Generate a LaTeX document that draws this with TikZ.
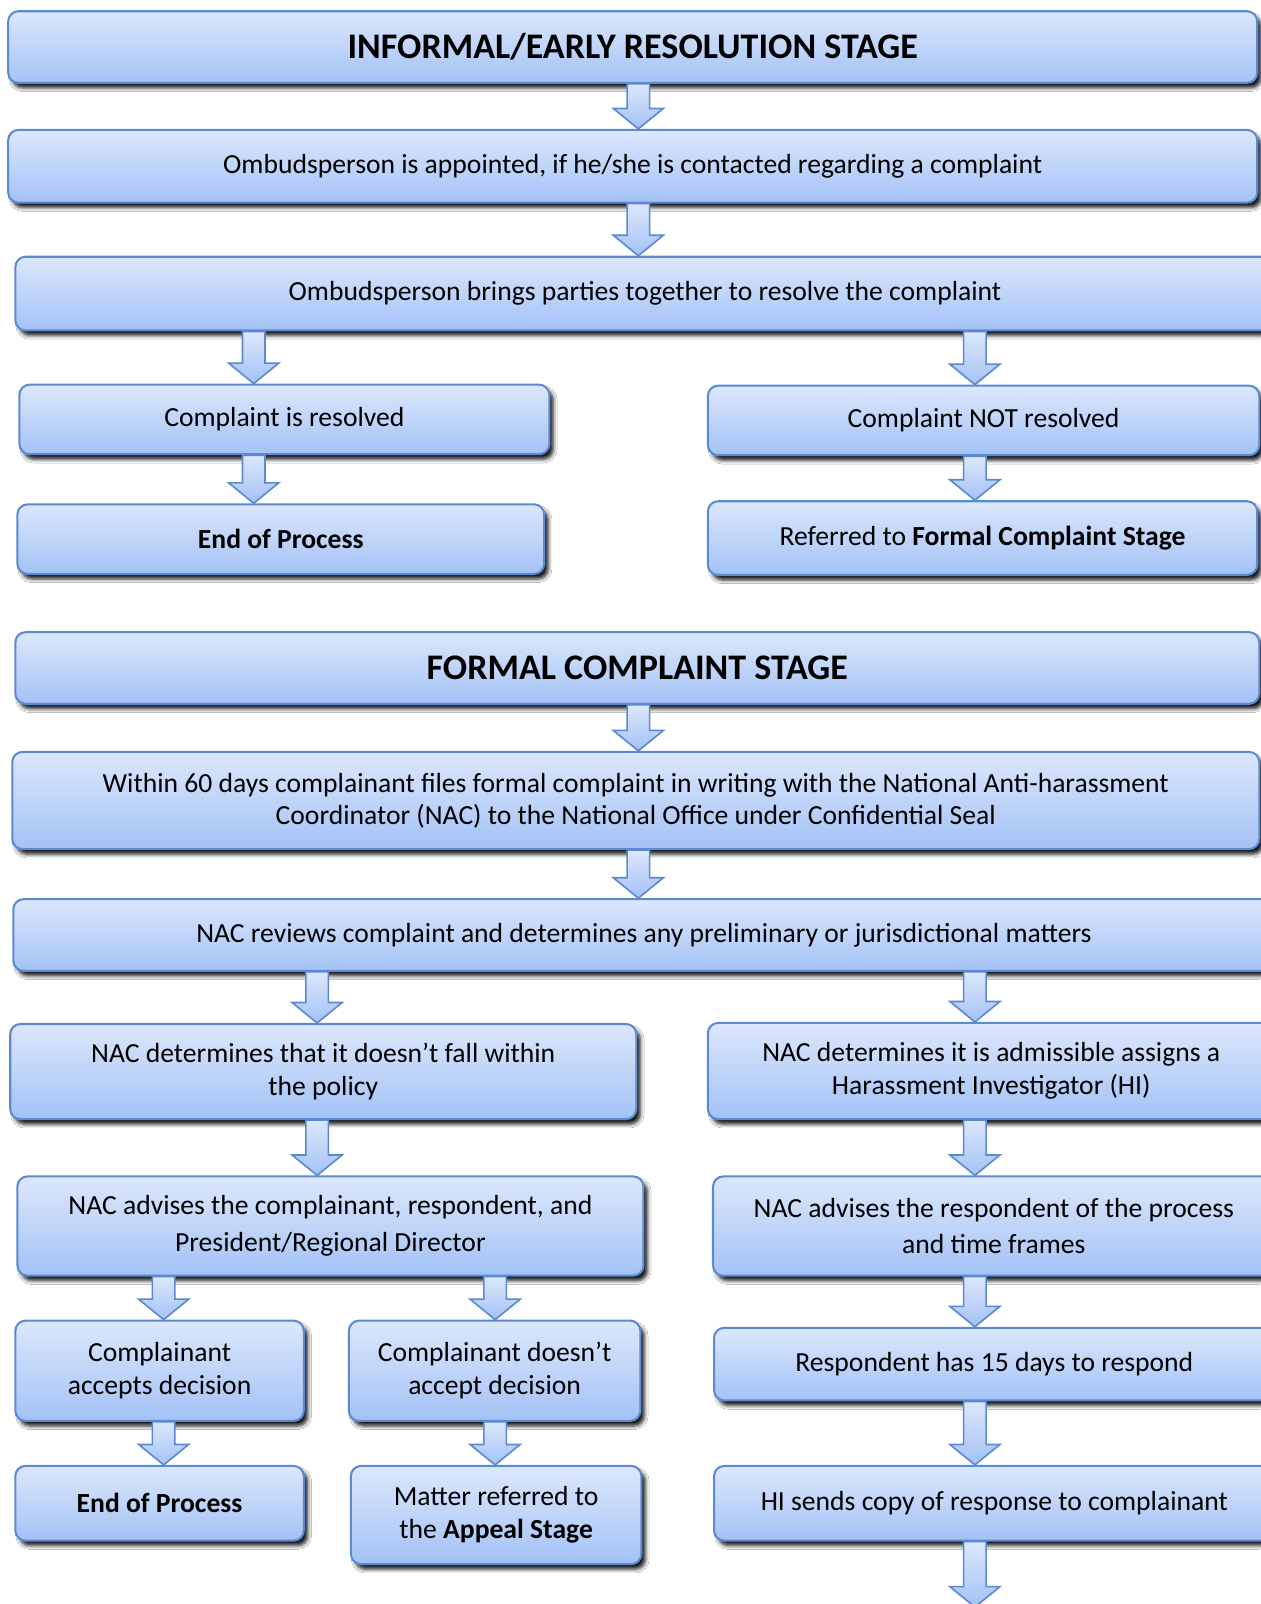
\documentclass[tikz,border=0pt]{standalone}
\usepackage{fontspec}
\setmainfont{Carlito}
\usetikzlibrary{calc,shadows.blur}
\definecolor{boxtop}{HTML}{DCE7FC}
\definecolor{boxbot}{HTML}{A3C2F6}
\definecolor{boxline}{HTML}{5B8AD0}
\tikzset{
  box/.style={draw=boxline, line width=1pt, rounded corners=5pt,
    top color=boxtop, bottom color=boxbot, inner sep=0pt, align=center,
    anchor=north west, font=\fontsize{13.5}{16}\selectfont,
    blur shadow={shadow xshift=2pt, shadow yshift=-2.5pt, shadow blur radius=1.8pt, shadow opacity=90}},
  barrowstyle/.style={draw=boxline, line width=0.8pt, line join=miter,
    top color=boxtop, bottom color=boxbot},
  headfont/.style={font=\fontsize{17.6}{20}\selectfont\bfseries},
  boldfont/.style={font=\fontsize{13.5}{16}\selectfont\bfseries},
}
% name, left, top, right, bottom, options, text
\newcommand\bx[7]{%
  \node[box, #6, minimum width={(#4-#2)*0.5pt}, minimum height={(#5-#3)*0.5pt}] (#1) at (#2,#3) {#7};}
% from, to, x
\newcommand\barrow[3]{%
  \path let \p1=(#1.south), \p2=(#2.north), \p3=(#3,0) in
    [barrowstyle] (\x3-5.5pt,\y1) -- (\x3+5.5pt,\y1) -- (\x3+5.5pt,\y2+10pt) -- (\x3+12.25pt,\y2+10pt)
    -- (\x3,\y2) -- (\x3-12.25pt,\y2+10pt) -- (\x3-5.5pt,\y2+10pt) -- cycle;}
\begin{document}
\begin{tikzpicture}[x=0.5pt,y=-0.5pt]
\useasboundingbox (0,0) rectangle (1232,1568);
\fill[white] (0,0) rectangle (1232,1568);
% informal stage
\bx{a}{7}{10}{1228}{80}{headfont}{INFORMAL/EARLY RESOLUTION STAGE}
\bx{b}{7}{126}{1228}{197}{}{Ombudsperson is appointed, if he/she is contacted regarding a complaint}
\bx{c}{14}{250}{1245}{322}{}{Ombudsperson brings parties together to resolve the complaint}
\bx{d}{18}{375}{536}{443}{}{Complaint is resolved}
\bx{e}{16}{492}{531}{560}{boldfont}{End of Process}
\bx{f}{691}{376}{1230}{444}{}{Complaint NOT resolved}
\bx{g}{691}{489}{1228}{561}{}{Referred to \textbf{Formal Complaint Stage}}
% formal stage
\bx{h}{14}{617}{1230}{687}{headfont}{FORMAL COMPLAINT STAGE}
\bx{i}{11}{734}{1230}{829}{font=\fontsize{13.5}{15.5}\selectfont}{Within 60 days complainant files formal complaint in writing with the National Anti-harassment\\Coordinator (NAC) to the National Office under Confidential Seal}
\bx{j}{12}{878}{1245}{948}{}{NAC reviews complaint and determines any preliminary or jurisdictional matters}
\bx{k}{9}{1000}{621}{1093}{}{NAC determines that it doesn’t fall within\\the policy}
\bx{l}{691}{999}{1245}{1093}{}{NAC determines it is admissible assigns a\\Harassment Investigator (HI)}
\bx{m}{16}{1149}{628}{1246}{font=\fontsize{13.5}{18}\selectfont}{NAC advises the complainant, respondent, and\\President/Regional Director}
\bx{n}{696}{1149}{1245}{1246}{font=\fontsize{13.5}{18}\selectfont}{NAC advises the respondent of the process\\and time frames}
\bx{o}{14}{1290}{296}{1388}{}{Complainant\\accepts decision}
\bx{p}{340}{1290}{625}{1388}{}{Complainant doesn’t\\accept decision}
\bx{q}{697}{1297}{1245}{1368}{}{Respondent has 15 days to respond}
\bx{r}{14}{1432}{296}{1505}{boldfont}{End of Process}
\bx{s}{342}{1432}{626}{1528}{}{Matter referred to\\the \textbf{Appeal Stage}}
\bx{t}{697}{1432}{1245}{1505}{}{HI sends copy of response to complainant}
\coordinate (tend) at (953,1571);
% arrows
\barrow{a}{b}{624}
\barrow{b}{c}{624}
\barrow{c}{d}{248}
\barrow{c}{f}{953}
\barrow{d}{e}{248}
\barrow{f}{g}{953}
\barrow{h}{i}{624}
\barrow{i}{j}{624}
\barrow{j}{k}{310}
\barrow{j}{l}{953}
\barrow{k}{m}{310}
\barrow{l}{n}{953}
\barrow{m}{o}{160}
\barrow{m}{p}{484}
\barrow{n}{q}{953}
\barrow{o}{r}{160}
\barrow{p}{s}{484}
\barrow{q}{t}{953}
\path let \p1=(t.south), \p2=(tend), \p3=(953,0) in
    [barrowstyle] (\x3-5.5pt,\y1) -- (\x3+5.5pt,\y1) -- (\x3+5.5pt,\y2+10pt) -- (\x3+12.25pt,\y2+10pt)
    -- (\x3,\y2) -- (\x3-12.25pt,\y2+10pt) -- (\x3-5.5pt,\y2+10pt) -- cycle;
\end{tikzpicture}
\end{document}
